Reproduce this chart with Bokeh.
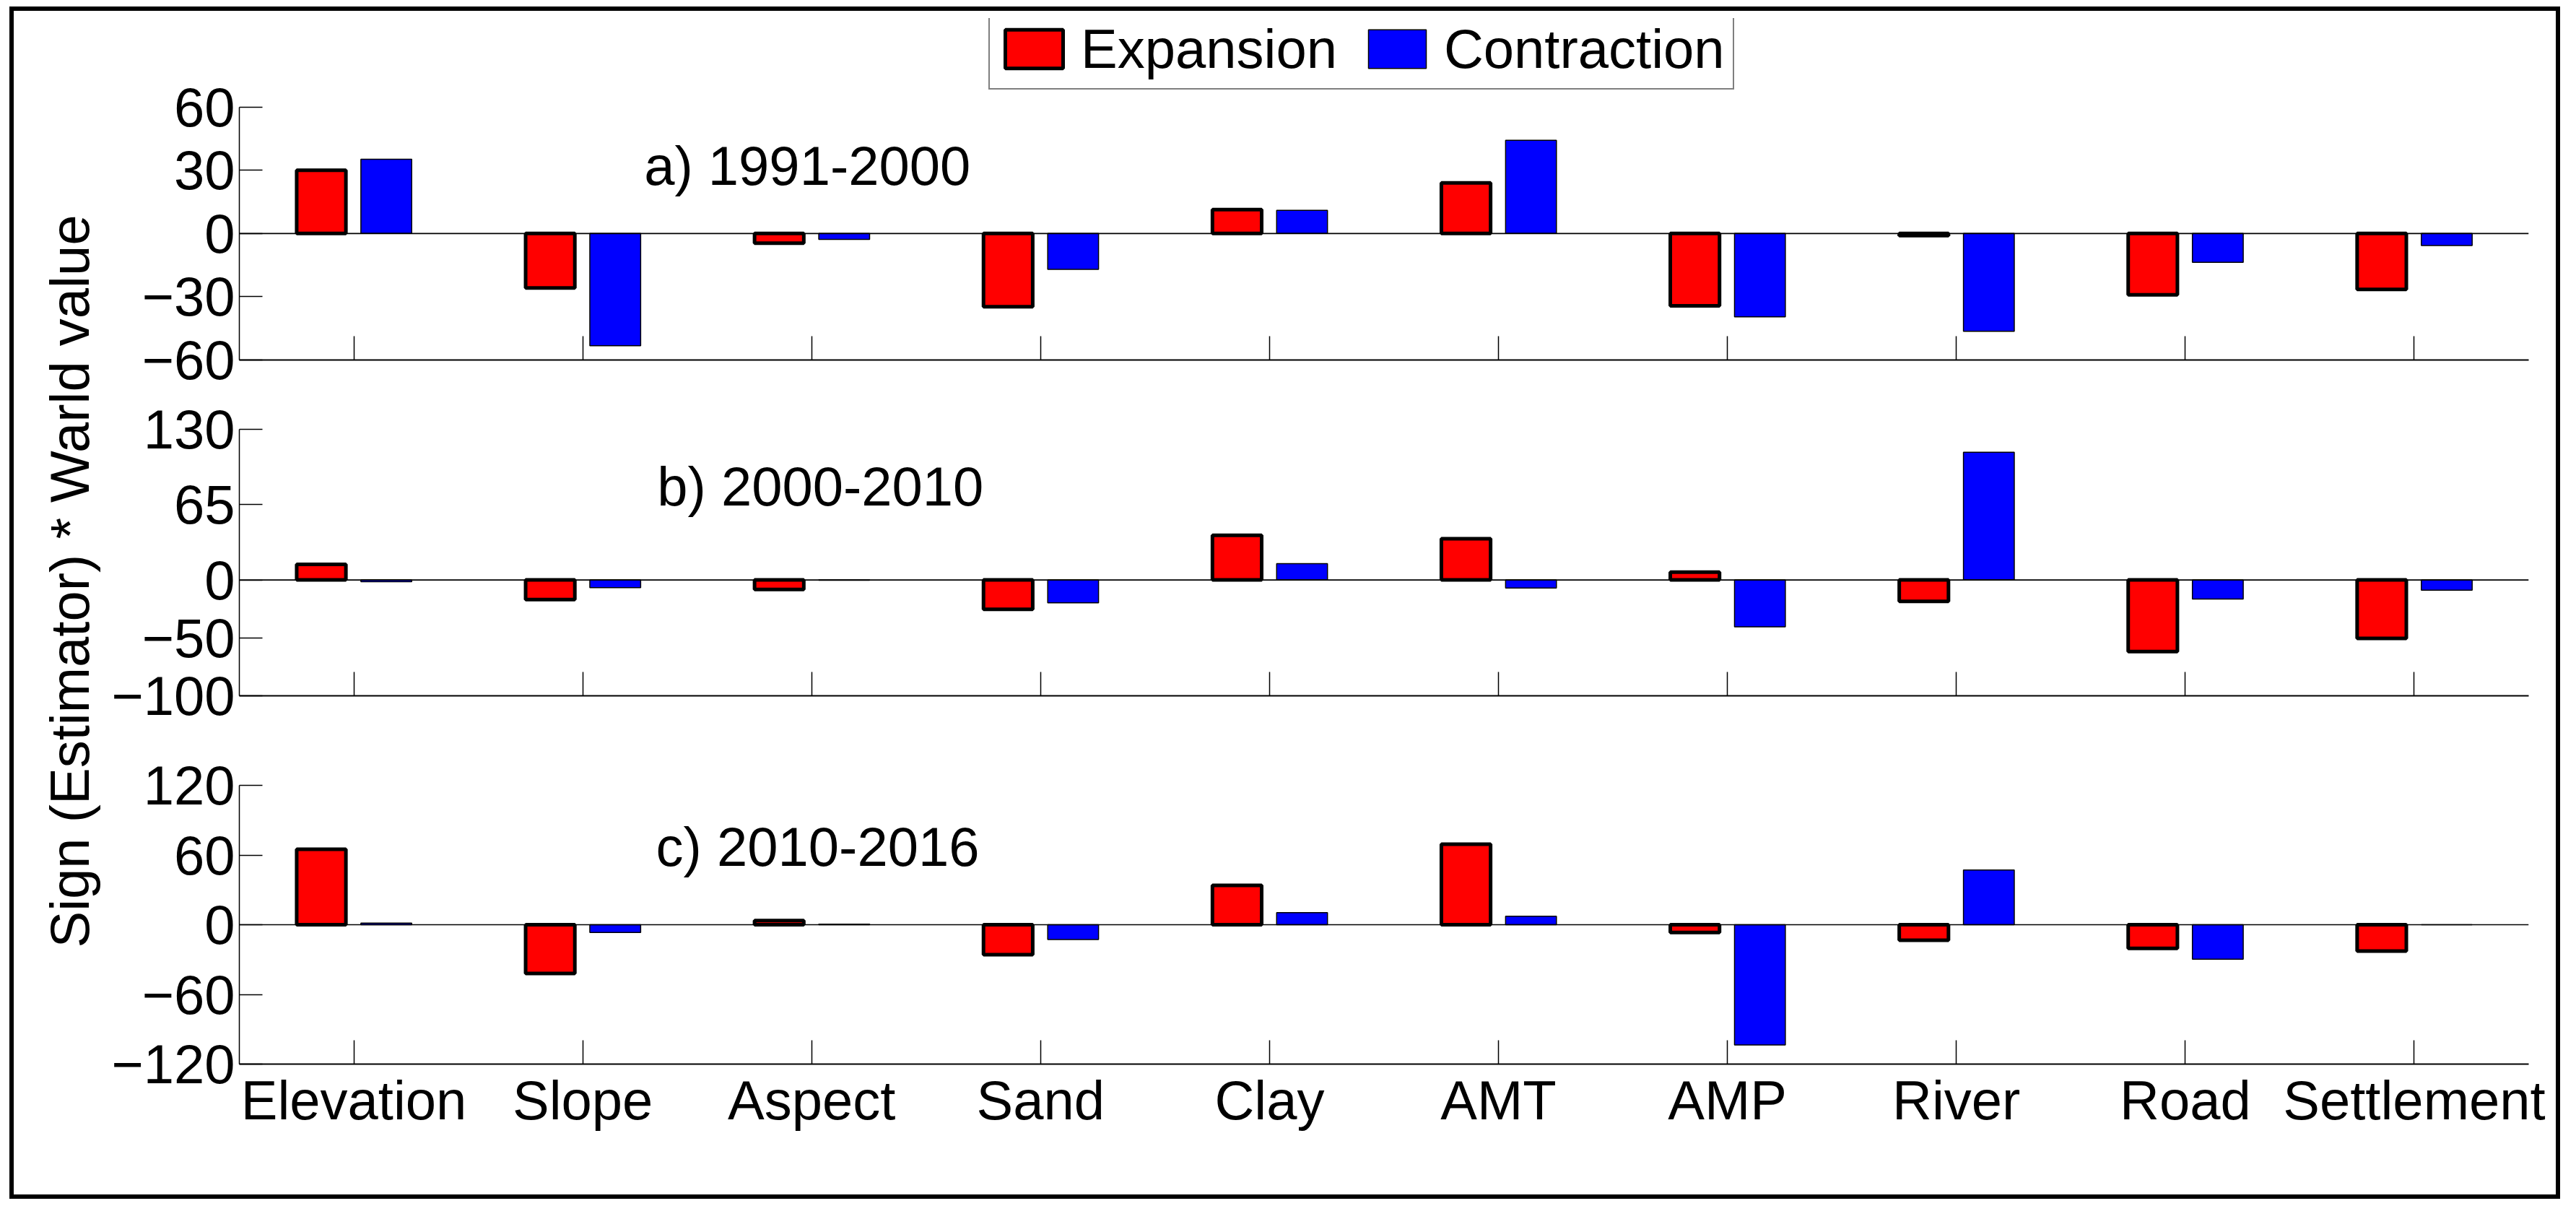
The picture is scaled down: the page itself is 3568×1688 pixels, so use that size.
import math
from bokeh.plotting import figure
from bokeh.models import (ColumnDataSource, FactorRange, Range1d, Span, Legend,
                          LegendItem, Label, FixedTicker, Spacer, Div)
from bokeh.transform import dodge
from bokeh.layouts import row, column
from bokeh.embed import file_html
from bokeh.resources import INLINE

# ---------------- data ----------------
categories = ["Elevation", "Slope", "Aspect", "Sand", "Clay",
              "AMT", "AMP", "River", "Road", "Settlement"]

expansion_a = [30.0, -25.8, -4.6, -34.7, 11.3, 24.0, -34.3, -1.0, -29.1, -26.5]
contraction_a = [35.2, -53.2, -2.8, -17.0, 11.0, 44.2, -39.5, -46.4, -13.7, -5.7]

expansion_b = [13.5, -17.0, -8.2, -25.3, 38.5, 35.5, 6.7, -18.5, -61.9, -50.5]
contraction_b = [-1.5, -6.7, -0.3, -19.8, 14.1, -6.9, -40.4, 110.2, -16.5, -8.8]

expansion_c = [64.9, -41.9, 3.6, -25.8, 33.9, 69.3, -6.7, -13.4, -20.4, -22.7]
contraction_c = [1.4, -6.7, 0.5, -12.7, 10.4, 7.3, -103.6, 47.1, -29.7, 0.0]

yticks_a = [-60, -30, 0, 30, 60]
yticks_b = [-100, -50, 0, 65, 130]
yticks_c = [-120, -60, 0, 60, 120]

period_labels = ["a) 1991-2000", "b) 2000-2010", "c) 2010-2016"]
series_names = ["Expansion", "Contraction"]
ylabel_text = "Sign (Estimator) * Warld value"

FONT = "Liberation Sans"
FS = "76px"
PANEL_W = 3389
LABEL_W = 132
CONTENT_H = 1639


def make_panel(exp, con, yticks, ytop, height, btop, bbot, show_x, label, lab_x, lab_y):
    src = ColumnDataSource(dict(cat=categories, exp=exp, con=con))
    p = figure(x_range=FactorRange(*categories),
               y_range=Range1d(yticks[0], ytop),
               width=PANEL_W, height=height, output_backend="svg",
               toolbar_location=None,
               min_border_left=157, min_border_right=38,
               min_border_top=btop, min_border_bottom=bbot)
    p.xgrid.visible = False
    p.ygrid.visible = False
    p.outline_line_color = None
    p.background_fill_color = "white"

    r_exp = p.vbar(x=dodge("cat", -0.142, range=p.x_range), top="exp", bottom=0,
                   width=0.215, source=src, fill_color="#ff0000",
                   line_color="black", line_width=5)
    r_con = p.vbar(x=dodge("cat", 0.142, range=p.x_range), top="con", bottom=0,
                   width=0.222, source=src, fill_color="#0000ff",
                   line_color="black", line_width=1.5)
    p.add_layout(Span(location=0, dimension="width", line_color="black",
                      line_width=1.7))

    ya = p.yaxis[0]
    ya.ticker = FixedTicker(ticks=yticks)
    ya.bounds = (yticks[0], yticks[-1])
    ya.major_tick_in = 32
    ya.major_tick_out = 0
    ya.minor_tick_line_color = None
    ya.axis_line_width = 1.5
    ya.axis_line_color = "black"
    ya.major_tick_line_width = 1.5
    ya.major_tick_line_color = "black"
    ya.major_label_text_font = FONT
    ya.major_label_text_font_size = FS
    ya.major_label_text_color = "black"
    ya.major_label_standoff = 6

    xa = p.xaxis[0]
    xa.major_tick_in = 33
    xa.major_tick_out = 0
    xa.axis_line_width = 2
    xa.axis_line_color = "black"
    xa.major_tick_line_width = 1.5
    xa.major_tick_line_color = "black"
    if show_x:
        xa.major_label_text_font = FONT
        xa.major_label_text_font_size = FS
        xa.major_label_text_color = "black"
        xa.major_label_standoff = 7
    else:
        xa.major_label_text_font_size = "0px"
        xa.major_label_text_color = None
        xa.major_label_standoff = 0

    p.add_layout(Label(x=lab_x, y=lab_y, text=label, text_font=FONT,
                       text_font_size=FS, text_color="black",
                       text_baseline="alphabetic", text_align="left"))
    return p, r_exp, r_con


# panel a frame is extended upward so the legend sits inside it
fa, ra_exp, ra_con = make_panel(expansion_a, contraction_a, yticks_a, 102.0, 533, 10, 50,
                                False, period_labels[0], 1.768, 32)
fb, _, _ = make_panel(expansion_b, contraction_b, yticks_b, 130, 484, 46, 69,
                      False, period_labels[1], 1.825, 81)
fc, _, _ = make_panel(expansion_c, contraction_c, yticks_c, 120, 622, 55, 181,
                      True, period_labels[2], 1.82, 67)

legend = Legend(items=[LegendItem(label=series_names[0], renderers=[ra_exp]),
                       LegendItem(label=series_names[1], renderers=[ra_con])],
                orientation="horizontal", location=(1038, 374), margin=0,
                padding=11, spacing=33, glyph_width=100, glyph_height=67,
                label_standoff=15, label_text_font=FONT, label_text_font_size=FS,
                label_text_color="black",
                border_line_color="black", border_line_width=2.5,
                background_fill_color="white", background_fill_alpha=1.0)
fa.add_layout(legend)

# y-axis label spanning all panels (rotated HTML text)
label_html = (
    f'<div style="position:relative; width:{LABEL_W}px; height:{CONTENT_H}px;">'
    '<div style="position:absolute; left:77px; top:790px; '
    'transform:translate(-50%,-50%) rotate(-90deg); white-space:nowrap; '
    "font-family:'Liberation Sans'; font-size:76px; line-height:87px; "
    f'color:black;">{ylabel_text}</div></div>'
)
lf = Div(text=label_html, width=LABEL_W, height=CONTENT_H, margin=0,
         styles={"overflow": "visible", "background": "white"})

framed = row(lf, column(fa, fb, fc, spacing=0), spacing=0,
             styles={"border": "6px solid black", "background": "white"})

layout = column(Spacer(width=10, height=9),
                row(Spacer(width=13, height=10), framed, spacing=0),
                spacing=0)

open("out.html", "w").write(file_html(layout, INLINE))
